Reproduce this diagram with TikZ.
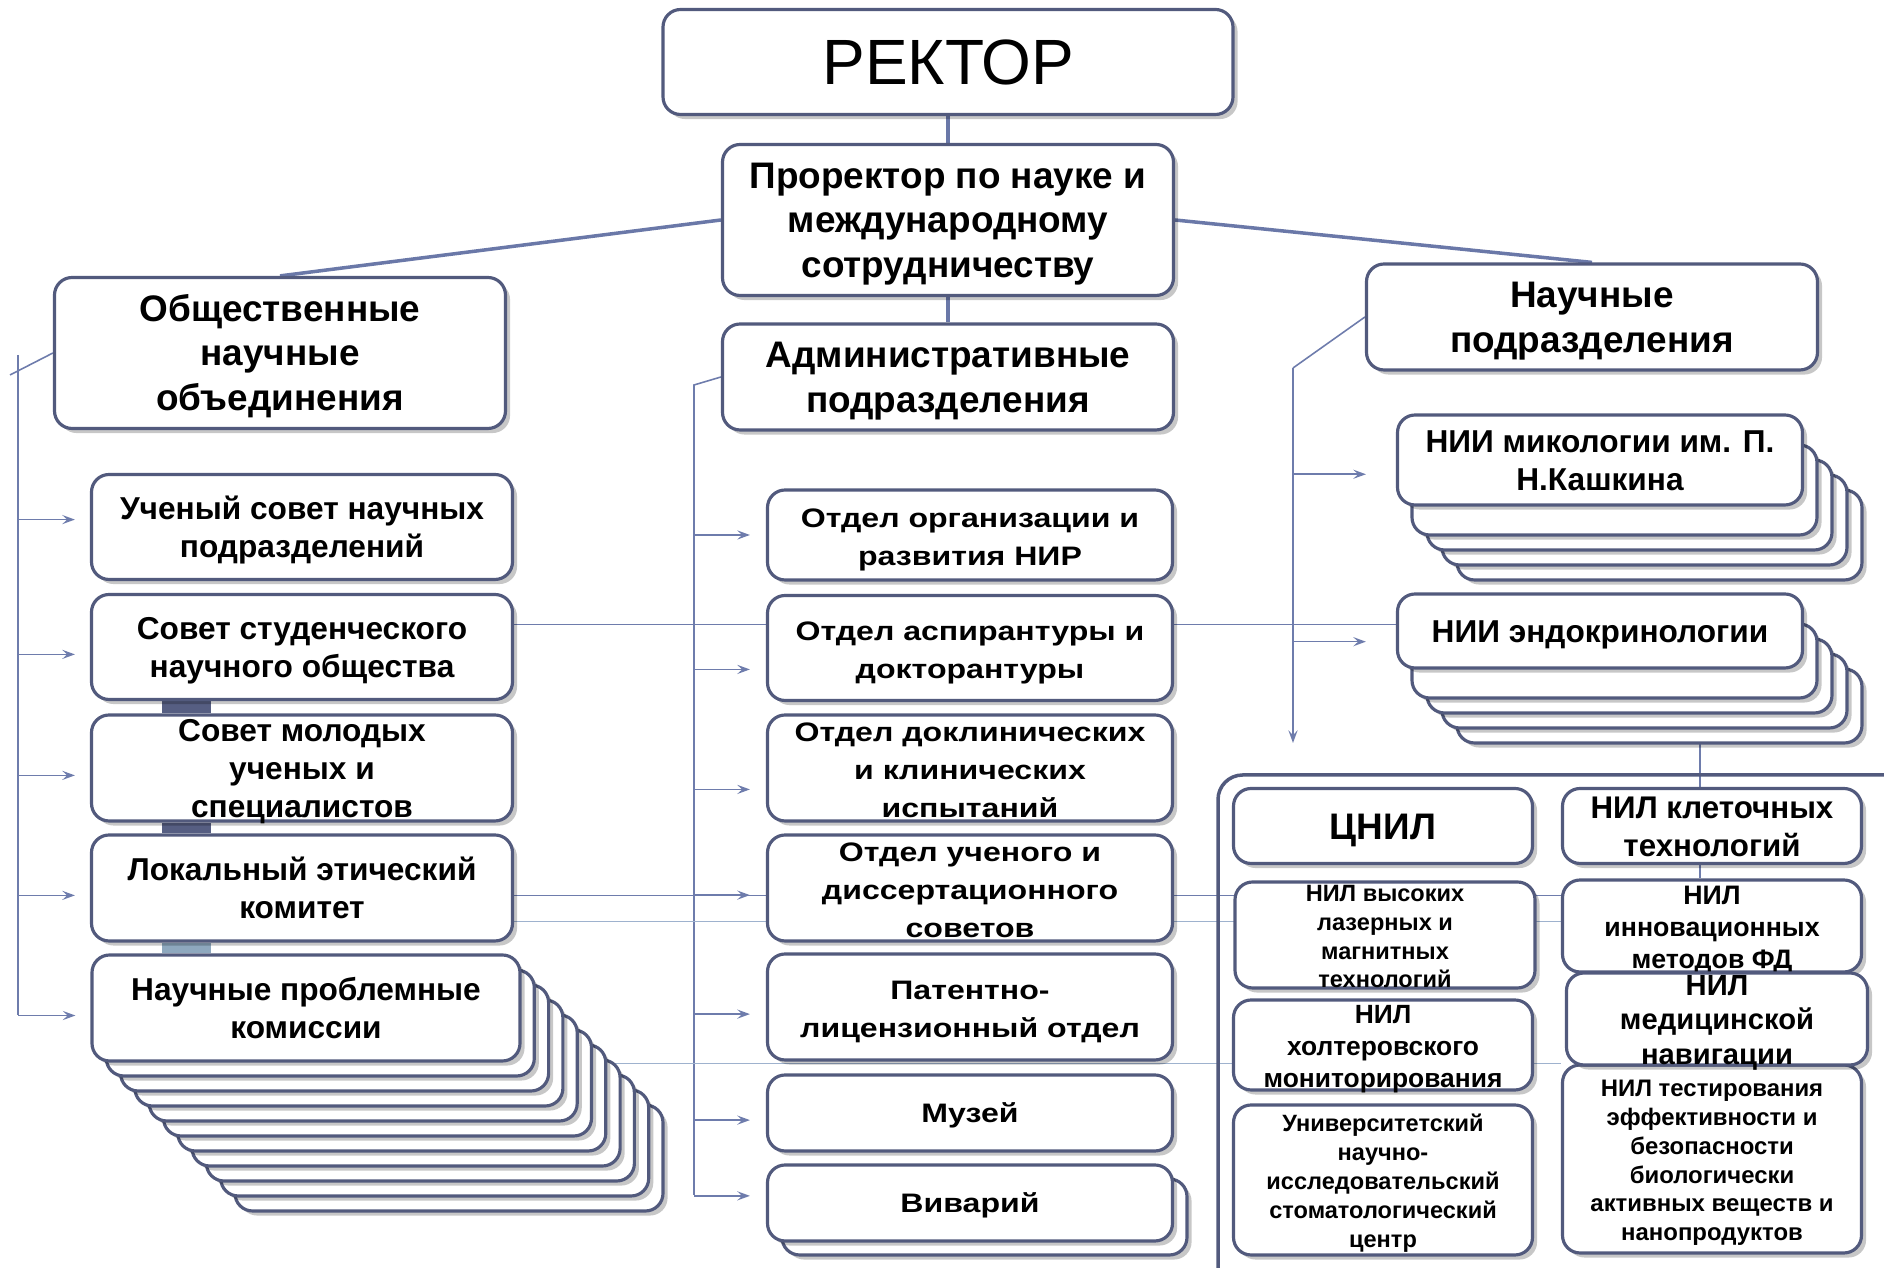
\documentclass[tikz,border=0pt]{standalone}
\usepackage{fontspec}
\setmainfont{Liberation Sans}
\newfontfamily\widefont[FakeStretch=1.2]{Liberation Sans}
\usetikzlibrary{shadows,arrows.meta}

\pgfdeclarelayer{bg}
\pgfsetlayers{bg,main}

\newlength{\du}
\setlength{\du}{0.01cm}

\definecolor{boxline}{RGB}{82,90,125}
\definecolor{linkline}{RGB}{106,120,168}
\definecolor{thinline}{RGB}{110,124,172}
\definecolor{paleline}{RGB}{158,178,206}
\definecolor{tabdark}{RGB}{86,94,130}
\definecolor{tablight}{RGB}{142,168,190}

\newcommand{\boxtext}[1]{%
  \setbox0=\hbox{\begin{tabular}{@{}c@{}}#1\end{tabular}}%
  \raisebox{\dimexpr(\dp0-\ht0)/2-1.1pt\relax}[0pt][0pt]{\copy0}}
% one line, capitals centred in the box
\newcommand{\linetext}[1]{\raisebox{-0.36em}[0pt][0pt]{#1}}

\tikzset{
  orgbox/.style={draw=boxline, line width=0.9pt, fill=white, rounded corners=5pt,
    inner sep=0pt, drop shadow={shadow xshift=1.3pt, shadow yshift=-1.3pt,
    fill=black, opacity=0.22}},
  sz/.style 2 args={minimum width=#1\du, minimum height=#2\du},
  toptxt/.style={font=\bfseries\fontsize{10.5}{12.7}\selectfont},
  lefttxt/.style={font=\bfseries\fontsize{9}{10.8}\selectfont},
  midtxt/.style={font=\widefont\bfseries\fontsize{7.6}{10.9}\selectfont},
  link/.style={linkline, line width=1pt},
  thinlink/.style={thinline, line width=0.45pt},
  arr/.style={thinlink, -{Stealth[length=3.6pt, width=2.6pt, inset=1.4pt]}},
  paleside/.style={paleline, line width=0.5pt}
}

\begin{document}
\begin{tikzpicture}[x=1\du, y=-1\du]
\useasboundingbox (0,0) rectangle (1884,1268);

% frame round the laboratories
\draw[boxline, line width=1pt, rounded corners=7pt] (1218,1290) -- (1218,775) -- (1900,775);

% sheets behind the stacked units
\foreach \k in {10,9,...,1}
  \draw[orgbox] ({92+14.3*\k},{955+15*\k}) rectangle ++(428,106);
\foreach \k in {4,3,2,1}
  {\draw[orgbox] ({1397+15*\k},{430+15*\k}) rectangle ++(405,90);
   \draw[orgbox] ({1397+15*\k},{609+15*\k}) rectangle ++(405,74);}
\draw[orgbox] (782,1179) rectangle ++(405,76);

% top of the tree
\node[orgbox, sz={570}{105}, font=\fontsize{18.2}{20}\selectfont] (rektor) at (948,62) {РЕКТОР};
\node[orgbox, sz={451}{151}, toptxt] (prorector) at (948,220) {\boxtext{Проректор по науке и\\международному\\сотрудничеству}};
\node[orgbox, sz={451}{106}, toptxt] (admin) at (948,377) {\boxtext{Административные\\подразделения}};
\node[orgbox, sz={451}{151}, toptxt] (obsh) at (280,353) {\boxtext{Общественные\\научные\\объединения}};
\node[orgbox, sz={451}{106}, toptxt] (nauch) at (1592,317) {\boxtext{Научные\\подразделения}};

% public bodies
\node[orgbox, sz={421}{105}, lefttxt] (uchsov) at (302,527) {\boxtext{Ученый совет научных\\подразделений}};
\node[orgbox, sz={421}{105}, lefttxt] (stud) at (302,647) {\boxtext{Совет студенческого\\научного общества}};
\node[orgbox, sz={421}{106}, lefttxt] (young) at (302,768) {\boxtext{Совет молодых\\ученых и\\специалистов}};
\node[orgbox, sz={421}{106}, lefttxt] (ethics) at (302,888) {\boxtext{Локальный этический\\комитет}};
\node[orgbox, sz={428}{106}, lefttxt] (probl) at (306,1008) {\boxtext{Научные проблемные\\комиссии}};

% administrative units
\node[orgbox, sz={405}{90}, midtxt] (org) at (970,535) {\boxtext{Отдел организации и\\развития НИР}};
\node[orgbox, sz={405}{105}, midtxt] (aspir) at (970,648) {\boxtext{Отдел аспирантуры и\\докторантуры}};
\node[orgbox, sz={405}{106}, midtxt] (preclin) at (970,768) {\boxtext{Отдел доклинических\\и клинических\\испытаний}};
\node[orgbox, sz={405}{106}, midtxt] (dissov) at (970,888) {\boxtext{Отдел ученого и\\диссертационного\\советов}};
\node[orgbox, sz={405}{106}, midtxt] (patent) at (970,1007) {\boxtext{Патентно-\\лицензионный отдел}};
\node[orgbox, sz={405}{76}, midtxt] (museum) at (970,1113) {\linetext{Музей}};
\node[orgbox, sz={405}{76}, midtxt] (vivar) at (970,1203) {\linetext{Виварий}};

% scientific units
\node[orgbox, sz={405}{90}, font=\bfseries\fontsize{9}{10.9}\selectfont] (niimyc) at (1600,460) {\boxtext{НИИ микологии им. П.\\Н.Кашкина}};
\node[orgbox, sz={405}{74}, font=\bfseries\fontsize{9}{10.9}\selectfont] (niiend) at (1600,631) {\linetext{НИИ эндокринологии}};
\node[orgbox, sz={299}{75}, font=\bfseries\fontsize{10.5}{12}\selectfont] (cnil) at (1383,826) {\linetext{ЦНИЛ}};
\node[orgbox, sz={299}{75}, font=\bfseries\fontsize{8.9}{10.9}\selectfont] (nilcell) at (1712,826) {\boxtext{НИЛ клеточных\\технологий}};
\node[orgbox, sz={300}{106}, font=\bfseries\fontsize{6.7}{8.2}\selectfont] (nillaser) at (1385,935) {\boxtext{НИЛ высоких\\лазерных и\\магнитных\\технологий}};
\node[orgbox, sz={299}{90}, font=\bfseries\fontsize{7.5}{9.1}\selectfont] (nilholt) at (1383,1045) {\boxtext{НИЛ\\холтеровского\\мониторирования}};
\node[orgbox, sz={299}{150}, font=\bfseries\fontsize{6.7}{8.2}\selectfont] (unistom) at (1383,1180) {\boxtext{Университетский\\научно-\\исследовательский\\стоматологический\\центр}};
\node[orgbox, sz={299}{188}, font=\bfseries\fontsize{6.8}{8.2}\selectfont] (niltest) at (1712,1159) {\boxtext{НИЛ тестирования\\эффективности и\\безопасности\\биологически\\активных веществ и\\нанопродуктов}};
\node[orgbox, sz={299}{92}, font=\bfseries\fontsize{7.6}{9.1}\selectfont] (nilinnov) at (1712,926) {\boxtext{НИЛ\\инновационных\\методов ФД}};
\node[orgbox, sz={301}{92}, font=\bfseries\fontsize{8.3}{9.9}\selectfont] (nilnav) at (1717,1019) {\boxtext{НИЛ\\медицинской\\навигации}};

\begin{pgfonlayer}{bg}
% main links
\draw[link] (rektor.south) -- (prorector.north);
\draw[link] (prorector.south) -- (admin.north);
\draw[link] (prorector.west) -- (obsh.north);
\draw[link] (prorector.east) -- (nauch.north);

% public bodies
\coordinate (lkink) at (10,375);
\coordinate (lspine) at (18,355);
\coordinate (lend) at (18,1015);
\draw[thinlink] (obsh.west) -- (lkink);
\draw[thinlink] (lspine) -- (lend);
\foreach \n/\a in {uchsov/178, stud/182, young/182, ethics/182, probl/182}
  \draw[arr, shorten >=15\du] (lspine |- \n.\a) -- (\n.\a);

% administrative units
\coordinate (mkink) at (694,385);
\coordinate (mend) at (694,1195);
\draw[thinlink] (admin.west) -- (mkink) -- (mend);
\foreach \n/\a in {org/180, aspir/186, preclin/186, dissov/182, patent/182, museum/182, vivar/178}
  \draw[arr, shorten >=16\du] (mkink |- \n.\a) -- (\n.\a);

% scientific units
\coordinate (rkink) at (1293,368);
\coordinate (rend) at (1293,743);
\draw[thinlink] (nauch.west) -- (rkink);
\draw[arr] (rkink) -- (rend);
\foreach \n/\a in {niimyc/184, niiend/183}
  \draw[arr, shorten >=30\du] (rkink |- \n.\a) -- (\n.\a);
\coordinate (nstack) at (1700,743);
\draw[thinlink] (nstack) -- (nstack |- nilcell.north);
\draw[thinlink] (nilcell.south -| nstack) -- (nstack |- nilinnov.north);

% cross lines
\draw[thinlink] (stud.6) -- (stud.6 -| niiend.west);
\draw[thinlink] (ethics.358) -- (ethics.358 -| nilinnov.west);
\draw[paleside] (ethics.351) -- (ethics.351 -| nilinnov.west);
\draw[paleside] (probl.east |- nilholt.187) -- (nilholt.187 -| niltest.west);

% tabs between the public bodies
\fill[tabdark] (162,0 |- stud.south) rectangle (211,0 |- young.north);
\fill[tabdark] (162,0 |- young.south) rectangle (211,0 |- ethics.north);
\fill[tablight] (162,0 |- ethics.south) rectangle (211,0 |- probl.north);
\end{pgfonlayer}
\end{tikzpicture}
\end{document}
